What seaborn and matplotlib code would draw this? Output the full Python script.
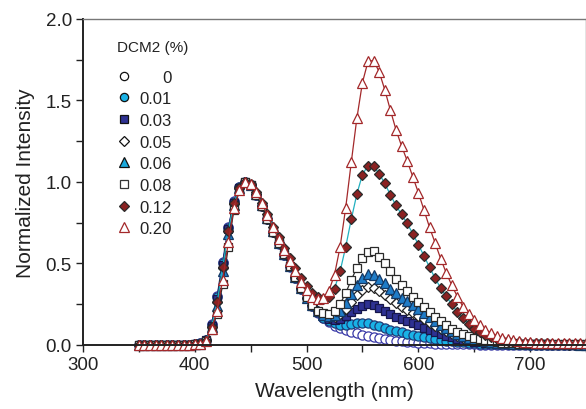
import numpy as np
import pandas as pd
import matplotlib
matplotlib.use("Agg")
import matplotlib.pyplot as plt
from matplotlib.lines import Line2D
from matplotlib.ticker import MultipleLocator
import seaborn as sns

# ---------------- data ----------------
wavelength = np.arange(350, 755, 5)  # sampling grid (nm)

dcm_0 = [0, 0, 0, 0, 0, 0, 0, 0, 0, 0,
         0.003, 0.008, 0.03, 0.125, 0.30, 0.51, 0.72, 0.88, 0.97, 1.00,
         0.98, 0.92, 0.85, 0.77, 0.69, 0.62, 0.55, 0.48, 0.41, 0.345,
         0.285, 0.235, 0.195, 0.162, 0.137, 0.117, 0.101, 0.089, 0.079, 0.070,
         0.062, 0.054, 0.046, 0.039, 0.033, 0.028, 0.024, 0.020, 0.017, 0.014,
         0.012, 0.010, 0.008, 0.007, 0.006, 0.005, 0.004, 0.003, 0.003, 0.002,
         0.002, 0.001, 0.001, 0.001, 0.001, 0, 0, 0, 0, 0,
         0, 0, 0, 0, 0, 0, 0, 0, 0, 0,
         0]

dcm_001 = [0, 0, 0, 0, 0, 0, 0, 0, 0, 0,
           0.003, 0.008, 0.03, 0.12, 0.29, 0.50, 0.715, 0.875, 0.968, 1.00,
           0.98, 0.921, 0.851, 0.771, 0.692, 0.622, 0.552, 0.482, 0.412, 0.345,
           0.286, 0.236, 0.198, 0.167, 0.145, 0.131, 0.123, 0.123, 0.127, 0.131,
           0.133, 0.132, 0.124, 0.114, 0.103, 0.093, 0.084, 0.075, 0.068, 0.061,
           0.054, 0.048, 0.041, 0.035, 0.030, 0.025, 0.021, 0.017, 0.014, 0.011,
           0.009, 0.007, 0.006, 0.005, 0.004, 0.003, 0.003, 0.002, 0.002, 0.002,
           0.001, 0.001, 0.001, 0.001, 0.001, 0, 0, 0, 0, 0,
           0]

dcm_003 = [0, 0, 0, 0, 0, 0, 0, 0, 0, 0,
           0.003, 0.007, 0.028, 0.115, 0.28, 0.49, 0.71, 0.87, 0.965, 1.00,
           0.98, 0.922, 0.852, 0.772, 0.693, 0.623, 0.553, 0.483, 0.413, 0.346,
           0.287, 0.239, 0.201, 0.174, 0.157, 0.151, 0.157, 0.175, 0.199, 0.222,
           0.240, 0.248, 0.241, 0.227, 0.209, 0.190, 0.173, 0.158, 0.145, 0.131,
           0.118, 0.104, 0.090, 0.078, 0.066, 0.055, 0.045, 0.036, 0.029, 0.023,
           0.019, 0.015, 0.012, 0.009, 0.007, 0.006, 0.005, 0.004, 0.004, 0.003,
           0.003, 0.002, 0.002, 0.002, 0.001, 0.001, 0.001, 0.001, 0.001, 0.001,
           0.001]

dcm_005 = [0, 0, 0, 0, 0, 0, 0, 0, 0, 0,
           0.003, 0.007, 0.027, 0.11, 0.26, 0.47, 0.70, 0.865, 0.962, 1.00,
           0.98, 0.923, 0.853, 0.773, 0.694, 0.624, 0.554, 0.484, 0.414, 0.347,
           0.288, 0.241, 0.205, 0.180, 0.168, 0.170, 0.188, 0.222, 0.265, 0.306,
           0.338, 0.355, 0.350, 0.332, 0.306, 0.279, 0.255, 0.234, 0.215, 0.195,
           0.176, 0.156, 0.135, 0.117, 0.099, 0.083, 0.068, 0.055, 0.044, 0.035,
           0.028, 0.022, 0.017, 0.014, 0.011, 0.009, 0.007, 0.006, 0.005, 0.004,
           0.004, 0.003, 0.003, 0.002, 0.002, 0.002, 0.002, 0.001, 0.001, 0.001,
           0.001]

dcm_006 = [0, 0, 0, 0, 0, 0, 0, 0, 0, 0,
           0.003, 0.007, 0.026, 0.11, 0.24, 0.45, 0.68, 0.86, 0.96, 1.00,
           0.98, 0.924, 0.855, 0.775, 0.696, 0.626, 0.556, 0.486, 0.416, 0.347,
           0.289, 0.242, 0.207, 0.185, 0.176, 0.183, 0.210, 0.257, 0.313, 0.366,
           0.409, 0.432, 0.430, 0.406, 0.376, 0.344, 0.315, 0.289, 0.267, 0.242,
           0.219, 0.193, 0.168, 0.145, 0.123, 0.103, 0.085, 0.068, 0.054, 0.043,
           0.035, 0.028, 0.022, 0.017, 0.013, 0.010, 0.008, 0.007, 0.006, 0.005,
           0.004, 0.004, 0.003, 0.003, 0.002, 0.002, 0.002, 0.002, 0.002, 0.001,
           0.001]

dcm_008 = [0, 0, 0, 0, 0, 0, 0, 0, 0, 0,
           0.002, 0.005, 0.02, 0.09, 0.19, 0.37, 0.60, 0.83, 0.95, 1.00,
           0.98, 0.92, 0.85, 0.77, 0.695, 0.625, 0.555, 0.485, 0.415, 0.35,
           0.29, 0.245, 0.21, 0.193, 0.19, 0.207, 0.25, 0.317, 0.397, 0.473,
           0.534, 0.57, 0.575, 0.54, 0.50, 0.45, 0.405, 0.365, 0.33, 0.295,
           0.262, 0.23, 0.20, 0.172, 0.145, 0.12, 0.099, 0.08, 0.064, 0.051,
           0.041, 0.033, 0.026, 0.02, 0.016, 0.013, 0.01, 0.008, 0.007, 0.006,
           0.005, 0.005, 0.004, 0.004, 0.003, 0.003, 0.003, 0.002, 0.002, 0.002,
           0.002]

dcm_012 = [0, 0, 0, 0, 0, 0, 0, 0, 0, 0,
           0.002, 0.006, 0.025, 0.11, 0.26, 0.475, 0.70, 0.87, 0.965, 1.00,
           0.985, 0.935, 0.87, 0.80, 0.725, 0.66, 0.595, 0.53, 0.47, 0.41,
           0.36, 0.32, 0.29, 0.28, 0.29, 0.345, 0.45, 0.60, 0.77, 0.925,
           1.045, 1.10, 1.095, 1.05, 0.99, 0.92, 0.855, 0.80, 0.745, 0.682,
           0.615, 0.546, 0.476, 0.408, 0.348, 0.296, 0.247, 0.200, 0.162, 0.128,
           0.099, 0.077, 0.060, 0.047, 0.037, 0.029, 0.023, 0.018, 0.015, 0.012,
           0.010, 0.009, 0.008, 0.008, 0.007, 0.007, 0.007, 0.006, 0.006, 0.006,
           0.006]

dcm_020 = [0, 0, 0, 0, 0, 0, 0, 0, 0, 0,
           0.002, 0.005, 0.02, 0.095, 0.21, 0.40, 0.63, 0.84, 0.95, 1.00,
           0.985, 0.935, 0.87, 0.795, 0.72, 0.65, 0.58, 0.515, 0.45, 0.385,
           0.335, 0.295, 0.28, 0.285, 0.33, 0.43, 0.60, 0.84, 1.12, 1.39,
           1.61, 1.74, 1.745, 1.675, 1.565, 1.44, 1.32, 1.22, 1.13, 1.032,
           0.934, 0.828, 0.721, 0.625, 0.528, 0.44, 0.364, 0.294, 0.233, 0.186,
           0.15, 0.12, 0.093, 0.074, 0.056, 0.044, 0.035, 0.028, 0.023, 0.018,
           0.015, 0.013, 0.011, 0.010, 0.009, 0.009, 0.008, 0.008, 0.008, 0.008,
           0.008]

labels = ["0", "0.01", "0.03", "0.05", "0.06", "0.08", "0.12", "0.20"]
series = [dcm_0, dcm_001, dcm_003, dcm_005, dcm_006, dcm_008, dcm_012, dcm_020]

# ---------------- style ----------------
sns.set_style("ticks")
plt.rcParams["font.family"] = ["Liberation Sans", "DejaVu Sans"]

styles = [
    # marker, face, edge, line color, legend face, legend edge
    dict(marker="o", mfc="white",   mec="#3a3aa8", lc="#3a3aa8", lfc="white",   lec="#111111"),
    dict(marker="o", mfc="#19b2e6", mec="#1d3c78", lc="#1d3c78", lfc="#19b2e6", lec="#111111"),
    dict(marker="s", mfc="#2e3192", mec="#16164a", lc="#16164a", lfc="#2e3192", lec="#111111"),
    dict(marker="D", mfc="white",   mec="#222222", lc="#222222", lfc="white",   lec="#111111"),
    dict(marker="^", mfc="#1f7cc8", mec="#143864", lc="#143864", lfc="#1aa9dc", lec="#111111"),
    dict(marker="s", mfc="white",   mec="#2a2a2a", lc="#2a2a2a", lfc="white",   lec="#333333"),
    dict(marker="D", mfc="#8a2222", mec="#2b2b2b", lc="#22b0c0", lfc="#8a2222", lec="#2b2b2b"),
    dict(marker="^", mfc="white",   mec="#a3282a", lc="#a3282a", lfc="white",   lec="#a3282a"),
]
msize = {"o": 6.6, "s": 6.4, "D": 5.4, "^": 7.3}

W, H = 586, 410
fig = plt.figure(figsize=(W / 100, H / 100), dpi=100)
ax = fig.add_axes([83 / W, 1 - 345.7 / H, (586 - 83) / W, (345.7 - 20) / H])

for lab, vals, st in zip(labels, series, styles):
    df = pd.DataFrame({"wavelength": wavelength, "intensity": vals})
    sns.lineplot(data=df, x="wavelength", y="intensity", ax=ax,
                 color=st["lc"], linewidth=0.9,
                 marker=st["marker"], markersize=msize[st["marker"]],
                 markerfacecolor=st["mfc"], markeredgecolor=st["mec"],
                 markeredgewidth=0.9, legend=False, clip_on=False)

ax.set_xlim(300, 750)
ax.set_ylim(0, 2.0)
ax.xaxis.set_major_locator(MultipleLocator(100))
ax.xaxis.set_minor_locator(MultipleLocator(50))
ax.yaxis.set_major_locator(MultipleLocator(0.5))
ax.yaxis.set_minor_locator(MultipleLocator(0.25))
ax.yaxis.set_major_formatter(matplotlib.ticker.FormatStrFormatter("%.1f"))
ax.tick_params(which="both", direction="out", length=5, width=1.0, colors="#222222")
ax.tick_params(which="major", labelsize=13.5, labelcolor="#222222", pad=3)

for side in ["left", "bottom"]:
    ax.spines[side].set_linewidth(1.4)
    ax.spines[side].set_color("#222222")
for side in ["top", "right"]:
    ax.spines[side].set_visible(True)
    ax.spines[side].set_linewidth(1.0)
    ax.spines[side].set_color("#777777")

ax.set_xlabel("Wavelength (nm)", fontsize=15, color="#222222", labelpad=6)
ax.set_ylabel("Normalized Intensity", fontsize=15, color="#222222", labelpad=8)

# legend
handles = []
for st in styles:
    handles.append(Line2D([], [], linestyle="none", marker=st["marker"],
                          markersize=msize[st["marker"]] * 0.9,
                          markerfacecolor=st["lfc"], markeredgecolor=st["lec"],
                          markeredgewidth=0.9))
leg_labels = ["\u2007\u2008\u2007" + labels[0]] + labels[1:]
leg = ax.legend(handles, leg_labels, title="DCM2 (%)", loc="upper left",
                bbox_to_anchor=(0.055, 0.955), frameon=False, fontsize=12,
                title_fontsize=11, handlelength=0.8, handletextpad=0.55,
                labelspacing=0.4, alignment="left", borderaxespad=0)
leg._legend_box.sep = 11
for t in leg.get_texts():
    t.set_color("#222222")
leg.get_title().set_color("#222222")

fig.savefig("out.png", dpi=100)
